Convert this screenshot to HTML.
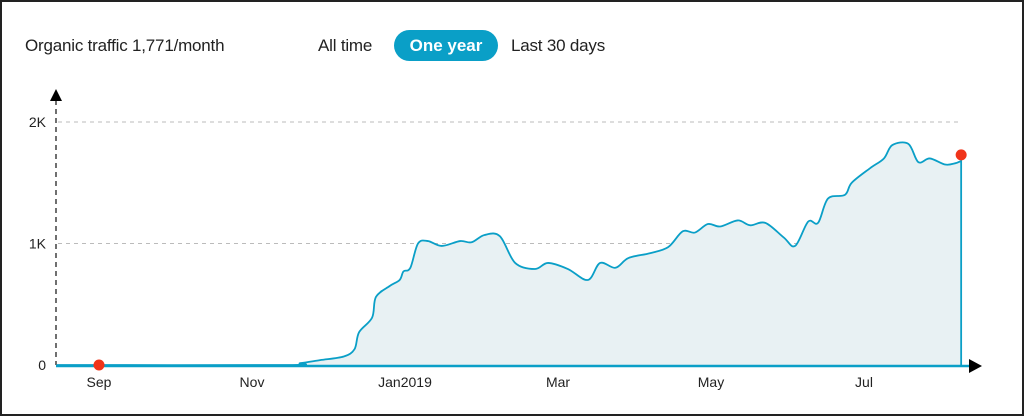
<!DOCTYPE html>
<html><head><meta charset="utf-8"><style>
body{margin:0;width:1024px;height:416px;background:#fff;font-family:"Liberation Sans",sans-serif;overflow:hidden}
#frame{position:absolute;left:0;top:0;width:1020px;height:412px;border:2px solid #222;}
.hdr{position:absolute;top:36px;font-size:17px;color:#222;letter-spacing:-0.2px}
#pill{position:absolute;left:394px;top:30px;width:104px;height:31px;border-radius:16px;background:#0a9fc7;color:#fff;font-size:17px;font-weight:bold;text-align:center;line-height:31px}
svg{position:absolute;left:0;top:0}
</style></head><body>
<div id="frame"></div>
<div class="hdr" style="left:25px">Organic traffic 1,771/month</div>
<div class="hdr" style="left:318px">All time</div>
<div id="pill">One year</div>
<div class="hdr" style="left:511px">Last 30 days</div>
<svg id="chart" width="1024" height="416"></svg>
<script>
const months=[-0.55,2.43,2.63,2.89,3.2,3.34,3.4,3.57,3.62,3.8,3.93,3.98,4.07,4.17,4.3,4.48,4.72,4.87,5.04,5.24,5.44,5.7,5.87,6.13,6.39,6.55,6.75,6.92,7.2,7.44,7.63,7.79,7.96,8.12,8.35,8.51,8.71,8.95,9.1,9.27,9.4,9.53,9.75,9.84,10.08,10.26,10.37,10.58,10.71,10.86,11.06,11.19,11.27];
const traffic=[0,0,15,40,70,130,270,390,560,650,700,770,800,1000,1020,980,1020,1010,1070,1060,840,790,840,790,700,840,800,880,920,970,1100,1090,1160,1140,1190,1150,1170,1050,980,1180,1170,1370,1400,1500,1620,1700,1810,1820,1670,1700,1650,1660,1680];
const yTicks=[0,1000,2000];
const yTickLabels=["0","1K","2K"];
const xTicks=[0,2,4,6,8,10];
const xTickLabels=["Sep","Nov","Jan2019","Mar","May","Jul"];
const NS="http://www.w3.org/2000/svg";
const svg=document.getElementById('chart');
const X=m=>99+m*76.5;
const Y=v=>365-v*0.1215;
function mk(t,a,p){const e=document.createElementNS(NS,t);for(const k in a)e.setAttribute(k,a[k]);(p||svg).appendChild(e);return e;}
// grid
yTicks.forEach((v,i)=>{
 if(v>0){const g=mk('line',{x1:58,x2:962,y1:Y(v),y2:Y(v),stroke:'#bbb','stroke-dasharray':'4,4'});
 
 }
 const t=mk('text',{x:46,y:Y(v)+5,'text-anchor':'end','font-size':14,fill:'#222'});t.textContent=yTickLabels[i];
 
 
});
xTicks.forEach((m,i)=>{
 const t=mk('text',{x:X(m),y:387,'text-anchor':'middle','font-size':14,fill:'#222'});t.textContent=xTickLabels[i];
 
 
});
// y axis
const ya=mk('line',{x1:56,x2:56,y1:100,y2:365,stroke:'#222','stroke-dasharray':'5,4','stroke-width':1.3});


const yar=mk('polygon',{points:'50,101 62,101 56,89',fill:'#000'});


// path
const pts=months.map((m,i)=>[X(m),Y(traffic[i])]);
let d='M'+pts[0][0]+','+pts[0][1];
for(let i=0;i<pts.length-1;i++){
 const p0=pts[Math.max(i-1,0)],p1=pts[i],p2=pts[i+1],p3=pts[Math.min(i+2,pts.length-1)];
 const c1=[p1[0]+(p2[0]-p0[0])/6,p1[1]+(p2[1]-p0[1])/6],c2=[p2[0]-(p3[0]-p1[0])/6,p2[1]-(p3[1]-p1[1])/6];
 d+=`C${c1[0]},${c1[1]} ${c2[0]},${c2[1]} ${p2[0]},${p2[1]}`;
}
const last=pts[pts.length-1];
const area=mk('path',{d:d+`L${last[0]},365L${pts[0][0]},365Z`,fill:'#e8f1f3'});


const line=mk('path',{d:d+`L${last[0]},365`,fill:'none',stroke:'#0a9fc7','stroke-width':1.8});


// x axis
const xa=mk('line',{x1:56,x2:970,y1:366,y2:366,stroke:'#0a9fc7','stroke-width':2.5});


const xar=mk('polygon',{points:'969,359 969,373 982,366',fill:'#000'});


const d1=mk('circle',{cx:X(0),cy:Y(0),r:5.5,fill:'#f0341a'});


const d2=mk('circle',{cx:last[0],cy:last[1]-6,r:5.5,fill:'#f0341a'});


</script>
</body></html>
